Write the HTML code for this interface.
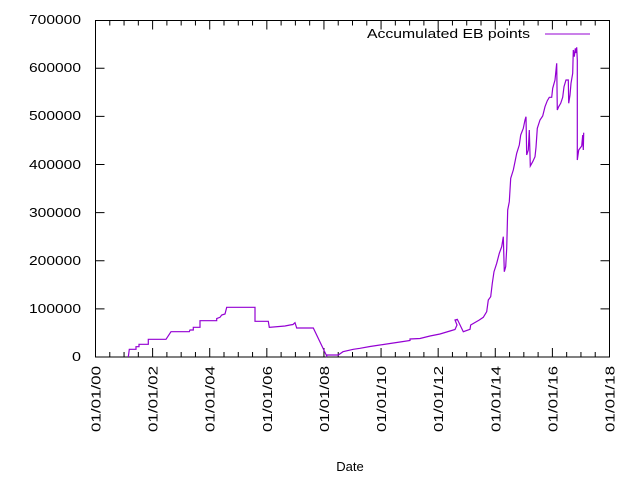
<!DOCTYPE html>
<html><head><meta charset="utf-8"><style>body{margin:0;background:#fff}svg{display:block}</style></head>
<body>
<svg width="640" height="480" xmlns="http://www.w3.org/2000/svg" font-family="Liberation Sans, sans-serif" font-size="13">
<rect width="640" height="480" fill="#fff"/>
<g stroke="#000" stroke-width="1" fill="none">
<rect x="95.5" y="20.5" width="514" height="336.5"/>
<path d="M95.5 308.9h9M609.5 308.9h-9M95.5 260.7h9M609.5 260.7h-9M95.5 212.6h9M609.5 212.6h-9M95.5 164.5h9M609.5 164.5h-9M95.5 116.4h9M609.5 116.4h-9M95.5 68.2h9M609.5 68.2h-9"/>
<path id="mt" d=""/>
</g>
<g id="xt" stroke="#000"></g>
<g fill="#000" text-anchor="end">
<text x="81" y="361" textLength="9" lengthAdjust="spacingAndGlyphs">0</text>
<text x="81" y="313" textLength="52" lengthAdjust="spacingAndGlyphs">100000</text>
<text x="81" y="265" textLength="52" lengthAdjust="spacingAndGlyphs">200000</text>
<text x="81" y="217" textLength="52" lengthAdjust="spacingAndGlyphs">300000</text>
<text x="81" y="169" textLength="52" lengthAdjust="spacingAndGlyphs">400000</text>
<text x="81" y="120" textLength="52" lengthAdjust="spacingAndGlyphs">500000</text>
<text x="81" y="72" textLength="52" lengthAdjust="spacingAndGlyphs">600000</text>
<text x="81" y="24" textLength="52" lengthAdjust="spacingAndGlyphs">700000</text>
</g>
<g fill="#000" text-anchor="end" id="xl"></g>
<text x="350" y="471" text-anchor="middle" fill="#000">Date</text>
<text x="530" y="38" text-anchor="end" fill="#000" textLength="163" lengthAdjust="spacingAndGlyphs">Accumulated EB points</text>
<line x1="545" y1="34" x2="590" y2="34" stroke="#9400d3" stroke-width="1"/>
<polyline fill="none" stroke="#9400d3" stroke-width="1.2" points="128.3,357 129.3,349.3 136,349.3 136,346.7 139,346.7 139,344.3 148.3,344.3 148.3,339.3 166,339.3 171,331.7 189.3,331.7 190,330 193.3,330 193.3,327.3 200,327.3 200,320.7 216.7,320.7 216.7,318.5 220,317.3 221.7,315 225,314 226.7,307.3 255,307.3 255,321.3 268.3,321.3 269.3,327.3 285,326 290,325 293,324.5 295,322.7 296.7,328 313.3,328 326.7,356 327,355 338.3,355 343,351.7 353.3,349.3 360,348.3 370,346.5 380,345 390,343.5 400,342 410,340.5 410,339 420,338.5 430,336 440,334 450,331 455,329.5 457,325 455,320 457.3,319.3 463.3,331.7 470,329.3 470.7,325 479.3,320 483.3,317.3 486.7,311.7 488.3,300 490.7,296.7 492.3,283.3 494,271.7 496.7,263.3 499.3,253.3 501.7,246.7 503.3,236.7 504.3,271.7 505.7,266.7 506.7,248.3 507.7,210 509.3,201.7 510.7,178.3 513.3,170 515,161.7 516.7,153.3 519.3,145 520.7,135 523.3,128.3 525,120 526,116.7 526.7,155 528.3,150 529.3,130 530.3,166 532.7,161.7 535,156.7 536,147.3 537.3,128.3 540,120 542.7,116 545,106.7 547.3,100.7 549.3,97.3 551.7,97.3 552.7,88.3 555,80 556.7,63.3 557.3,110 558.7,106.7 560.7,103.3 562.7,97.3 564,86.7 566,80 568.3,80 568.7,103.3 570,95 571,83.3 572.7,73.3 573.3,50 574.3,56.7 575.3,48.3 576,53 576.7,47.3 577.3,60 577.3,160 578.7,150 581.7,146 582.7,135 583.3,150 583.7,132.7"/>
<script>
var g=document.getElementById('xt'),l=document.getElementById('xl'),ns='http://www.w3.org/2000/svg';
for(var i=0;i<=36;i++){var x=95.5+i*514/36;var m=(i%4==0)?9:5;
var a=document.createElementNS(ns,'line');a.setAttribute('x1',x);a.setAttribute('x2',x);a.setAttribute('y1',357);a.setAttribute('y2',357-m);g.appendChild(a);
var b=document.createElementNS(ns,'line');b.setAttribute('x1',x);b.setAttribute('x2',x);b.setAttribute('y1',20.5);b.setAttribute('y2',20.5+m);g.appendChild(b);
if(i%4==0){var y=i/2;var t=document.createElementNS(ns,'text');t.setAttribute('transform','translate('+(x+5)+',366) rotate(-90)');t.setAttribute('textLength','66');t.setAttribute('lengthAdjust','spacingAndGlyphs');t.textContent='01/01/'+(y<10?'0'+y:y);l.appendChild(t);}}
</script>
</svg>
</body></html>
